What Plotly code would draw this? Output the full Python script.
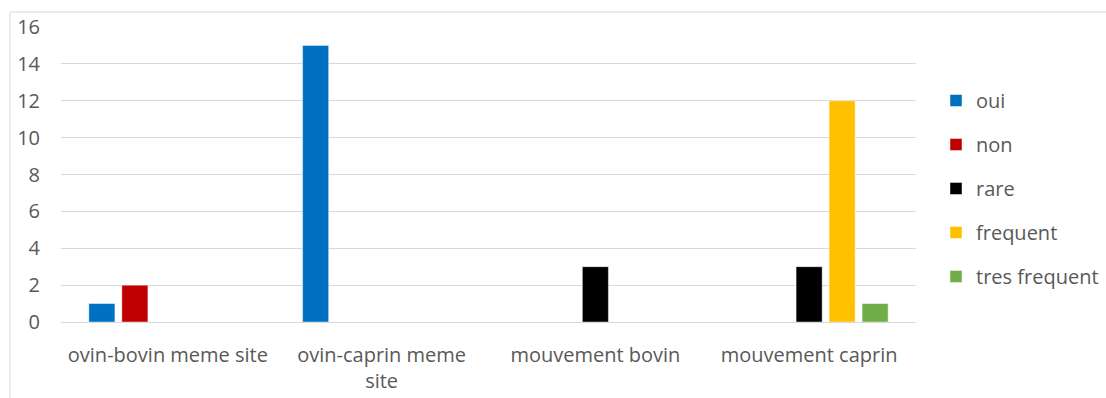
import plotly.graph_objects as go

categories = ["ovin-bovin meme site", "ovin-caprin meme site", "mouvement bovin", "mouvement caprin"]
tick_labels = ["ovin-bovin meme site", "ovin-caprin meme<br>site", "mouvement bovin", "mouvement caprin"]

series_names = ["oui", "non", "rare", "frequent", "tres frequent"]
oui = [1, 15, None, None]
non = [2, None, None, None]
rare = [None, None, 3, 3]
frequent = [None, None, None, 12]
tres_frequent = [None, None, None, 1]

colors = ["#0070C0", "#C00000", "#000000", "#FFC000", "#70AD47"]
values = [oui, non, rare, frequent, tres_frequent]

FONT = "Open Sans"
FS = 20
TEXT = "#595959"
GRID = "#D9D9D9"

fig = go.Figure()
for name, vals, col in zip(series_names, values, colors):
    fig.add_trace(go.Bar(
        x=categories, y=vals, name=name, legendgroup=name,
        marker=dict(color=col, line=dict(color="rgba(255,255,255,0.6)", width=0.75)),
    ))

W, H = 1106, 398
L, R, T, B = 61, 916, 27, 322
pw, ph = R - L, B - T

fig.update_layout(
    width=W, height=H,
    margin=dict(l=L, r=W - R, t=T, b=H - B, pad=0, autoexpand=False),
    paper_bgcolor="white", plot_bgcolor="white",
    barmode="group", bargap=0.228, bargroupgap=0.21,
    font=dict(family=FONT, size=FS, color=TEXT),
    showlegend=True,
    legend=dict(
        x=(936 - L) / pw, y=(B - 81) / ph, xanchor="left", yanchor="top",
        font=dict(family=FONT, size=FS, color=TEXT),
        tracegroupgap=15, itemclick=False, bgcolor="rgba(0,0,0,0)",
    ),
    xaxis=dict(
        tickmode="array", tickvals=categories, ticktext=tick_labels,
        showgrid=False, zeroline=False, showline=False, ticks="",
        tickfont=dict(family=FONT, size=FS, color=TEXT),
        ticklabelstandoff=19, automargin=False,
    ),
    yaxis=dict(
        range=[0, 16], dtick=2, showgrid=True, gridcolor=GRID, gridwidth=1.3,
        zeroline=True, zerolinecolor=GRID, zerolinewidth=1.3, showline=False,
        ticks="", ticklabelstandoff=20, automargin=False,
        tickfont=dict(family=FONT, size=FS, color=TEXT),
    ),
    shapes=[dict(
        type="rect", xref="paper", yref="paper",
        x0=(10 - L) / pw, x1=(W + 10 - L) / pw,
        y0=(B - (H + 10)) / ph, y1=(B - 12) / ph,
        line=dict(color=GRID, width=1), fillcolor="rgba(0,0,0,0)", layer="below",
    )],
)

fig.write_html("out.html")
